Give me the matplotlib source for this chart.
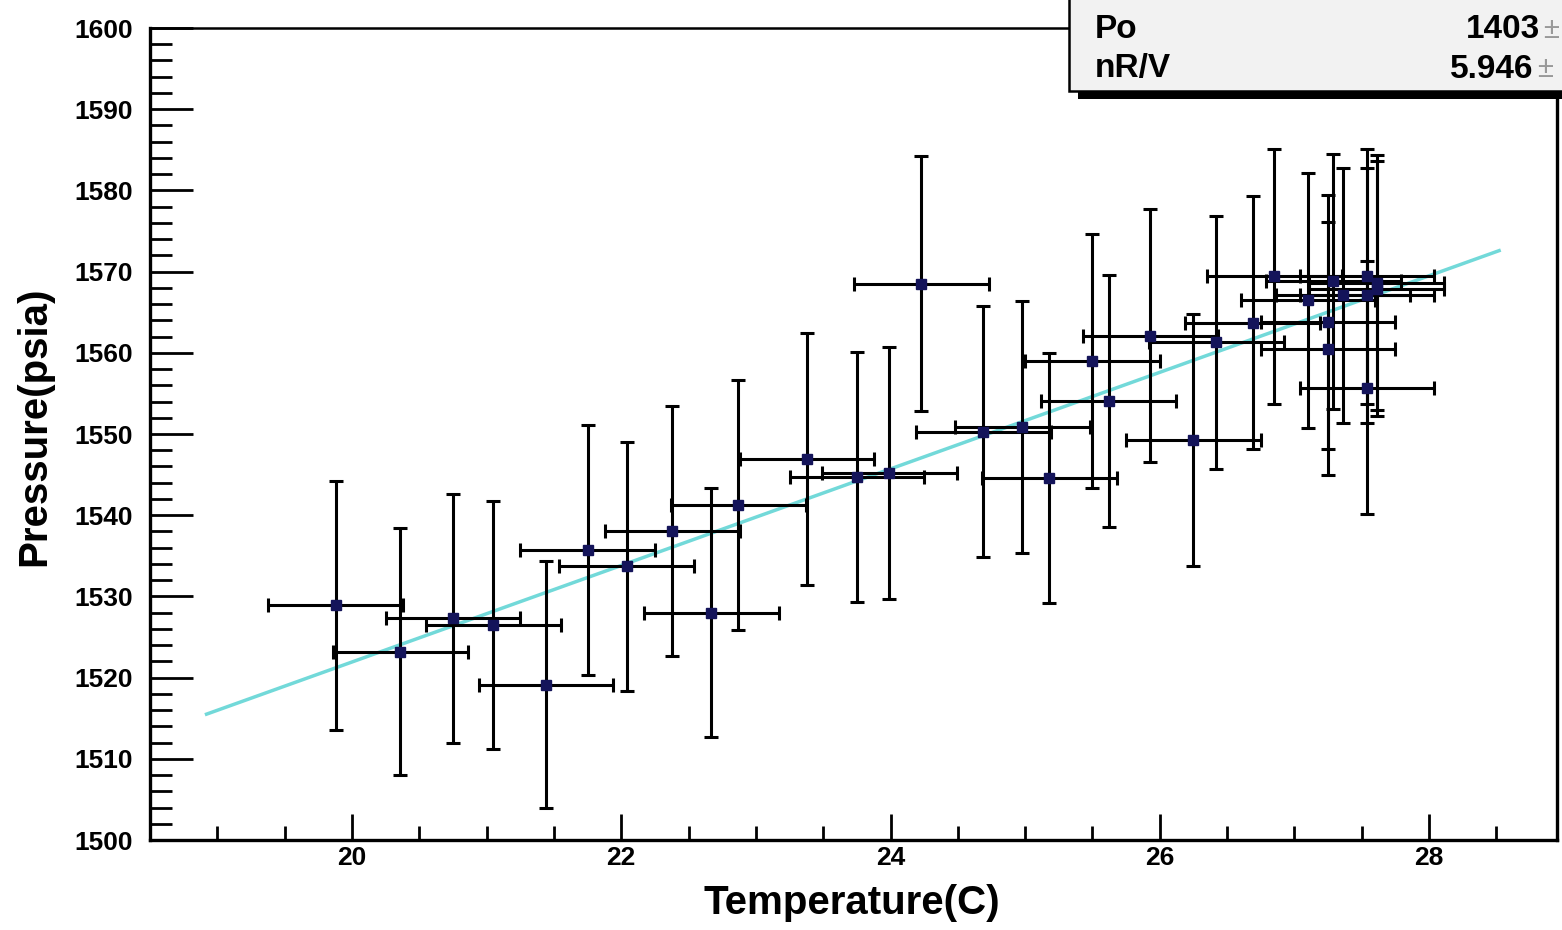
import numpy as np
import matplotlib.pyplot as plt
from matplotlib.ticker import MultipleLocator
from matplotlib.patches import Rectangle

plt.rcParams['font.family'] = ['Liberation Sans', 'DejaVu Sans']

# data
temp = [19.88, 20.36, 20.75, 21.05, 21.44, 21.75, 22.04, 22.38, 22.67, 22.87,
        23.38, 23.75, 23.99, 24.23, 24.69, 24.98, 25.18, 25.50, 25.62, 25.93,
        26.25, 26.42, 26.69, 26.85, 27.10, 27.25, 27.25, 27.29, 27.36, 27.54,
        27.54, 27.54, 27.61, 27.61]
pressure = [1528.9, 1523.2, 1527.3, 1526.5, 1519.1, 1535.7, 1533.7, 1538.0, 1528.0, 1541.3,
            1546.9, 1544.7, 1545.2, 1568.5, 1550.3, 1550.9, 1544.6, 1559.0, 1554.1, 1562.1,
            1549.3, 1561.3, 1563.7, 1569.4, 1566.5, 1563.8, 1560.5, 1568.8, 1567.1, 1569.4,
            1567.1, 1555.7, 1568.6, 1567.9]
temp_err = [0.5] * len(temp)
pressure_err = [15.3, 15.2, 15.3, 15.3, 15.2, 15.4, 15.3, 15.4, 15.3, 15.4,
                15.5, 15.4, 15.5, 15.7, 15.5, 15.5, 15.4, 15.6, 15.5, 15.6,
                15.5, 15.6, 15.6, 15.7, 15.7, 15.6, 15.6, 15.7, 15.7, 15.7,
                15.7, 15.6, 15.7, 15.7]

# fit result shown in the stats box
Po = 1403
nRV = 5.946
fit_range = (18.92, 28.52)

W, H = 1562, 930
fig = plt.figure(figsize=(W / 100, H / 100), dpi=100)
ax = fig.add_axes([150 / W, (H - 840) / H, (1557 - 150) / W, (840 - 28) / H])

# fit line
t_fit = np.linspace(fit_range[0], fit_range[1], 50)
ax.plot(t_fit, Po + nRV * t_fit, color='#72d9d9', lw=2.5, zorder=1)

# data with error bars
ax.errorbar(temp, pressure, xerr=temp_err, yerr=pressure_err, fmt='s',
            color='#14145a', ms=6.5, ecolor='black', elinewidth=2.2,
            capsize=5.2, capthick=2.2, zorder=2)

ax.set_xlim(18.5, 28.95)
ax.set_ylim(1500, 1600)

ax.xaxis.set_major_locator(MultipleLocator(2))
ax.xaxis.set_minor_locator(MultipleLocator(0.5))
ax.yaxis.set_major_locator(MultipleLocator(10))
ax.yaxis.set_minor_locator(MultipleLocator(2))

ax.tick_params(direction='in', top=False, right=False, which='both', width=2, color='black')
ax.xaxis.set_tick_params(which='major', length=19, pad=4, labelsize=19)
ax.xaxis.set_tick_params(which='minor', length=10)
ax.yaxis.set_tick_params(which='major', length=31, pad=12, labelsize=19)
ax.yaxis.set_tick_params(which='minor', length=16)
for lab in ax.get_xticklabels() + ax.get_yticklabels():
    lab.set_fontweight('bold')

for side in ['left', 'bottom', 'right']:
    ax.spines[side].set_linewidth(2.4)
ax.spines['top'].set_linewidth(1.8)

ax.set_xlabel('Temperature(C)', fontsize=29, fontweight='bold', va='center')
ax.xaxis.set_label_coords(0.499, -0.077)
ax.set_ylabel('Pressure(psia)', fontsize=29, fontweight='bold', va='center')
ax.yaxis.set_label_coords(-0.082, 0.51)

# stats box (cut off at the right edge like the original)
fig.patches.append(Rectangle((1078 / W, (H - 99) / H), 600 / W, 200 / H,
                             transform=fig.transFigure, facecolor='black',
                             edgecolor='none', zorder=5))
fig.patches.append(Rectangle((1069 / W, (H - 91) / H), 600 / W, 200 / H,
                             transform=fig.transFigure, facecolor='#f2f2f2',
                             edgecolor='black', lw=1.8, zorder=6))
fig.text(1095 / W, 1 - 30 / H, 'Po', fontsize=24, fontweight='bold', va='center', zorder=7)
fig.text(1095 / W, 1 - 69 / H, 'nR/V', fontsize=24, fontweight='bold', va='center', zorder=7)
fig.text(1540 / W, 1 - 30 / H, str(Po), fontsize=24, fontweight='bold', ha='right', va='center', zorder=7)
fig.text(1533 / W, 1 - 69 / H, '%.3f' % nRV, fontsize=24, fontweight='bold', ha='right', va='center', zorder=7)
fig.text(1543 / W, 1 - 30 / H, '\u00b1', fontsize=21, color='#999999', va='center', zorder=7)
fig.text(1537 / W, 1 - 69 / H, '\u00b1', fontsize=21, color='#999999', va='center', zorder=7)

plt.savefig('out.png', dpi=100, facecolor='white')
